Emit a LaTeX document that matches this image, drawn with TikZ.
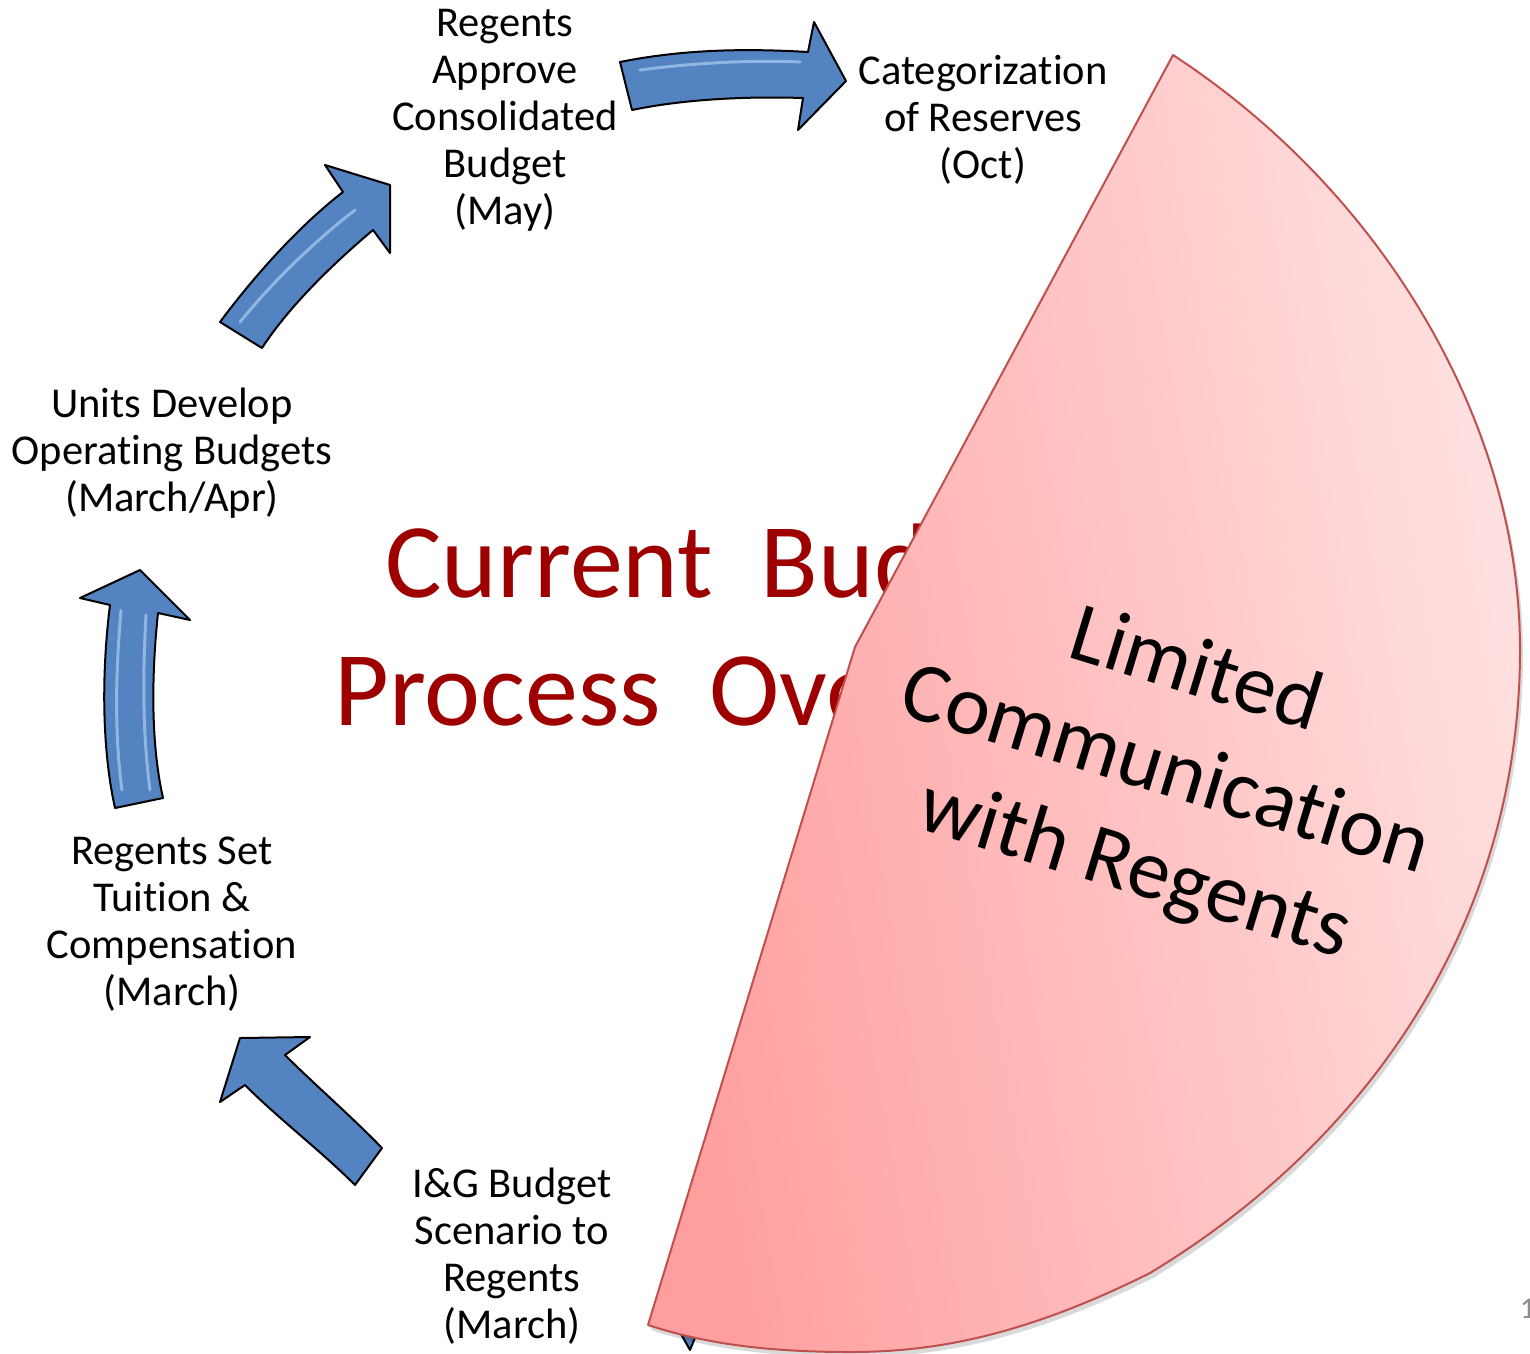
\documentclass[tikz,border=0pt]{standalone}
\usepackage{fontspec}
\setmainfont{Carlito}[Ligatures={NoCommon}]
\usetikzlibrary{calc}
\definecolor{titlered}{RGB}{158,0,0}
\definecolor{arrowblue}{RGB}{84,131,193}
\definecolor{arrowhi}{RGB}{170,205,240}
\definecolor{piedark}{RGB}{255,158,158}
\definecolor{pielight}{RGB}{255,226,226}
\definecolor{pieedge}{RGB}{192,80,77}
\definecolor{pagegray}{RGB}{140,140,140}
\newcommand\pieoutline{(648,1325) -- (855,647) -- (1173,55)
  .. controls (1380,190) and (1520,420) .. (1520,650)
  .. controls (1520,920) and (1370,1140) .. (1150,1273)
  .. controls (1020,1338) and (930,1352) .. (850,1352)
  .. controls (760,1352) and (700,1342) .. (648,1325) -- cycle}
\tikzset{
  lbl/.style={align=center,inner sep=0pt,font=\fontsize{42.5}{47}\selectfont},
  titletxt/.style={anchor=base,inner sep=0pt,text=titlered,font=\fontsize{106}{128}\selectfont},
  blockarrow/.style={fill=arrowblue,draw=black,line width=2pt,line join=round},
  gloss/.style={draw=arrowhi,line width=3pt,line cap=round,opacity=0.7},
  pietxt/.style={align=center,inner sep=0pt,font=\fontsize{85}{104}\selectfont,rotate=-17}
}
\begin{document}
\begin{tikzpicture}[x=1pt,y=-1pt]
\useasboundingbox[fill=white] (0,0) rectangle (1530,1353);

% title (partly hidden behind the pie)
\node[titletxt] (title1) at (726,597) {Current\ \ Budget};
\node[titletxt] (title2) at (726,725) {Process\ \ Overview};

% step labels
\node[lbl] (approve)  at (505,120) {Regents\\Approve\\Consolidated\\Budget\\(May)};
\node[lbl] (reserves) at (983,120) {Categorization\\of Reserves\\(Oct)};
\node[lbl] (units)    at (172,453) {Units Develop\\Operating Budgets\\(March/Apr)};
\node[lbl] (tuition)  at (172,924) {Regents Set\\Tuition \&\\Compensation\\(March)};
\node[lbl] (scenario) at (512,1256) {I\&G Budget\\Scenario to\\Regents\\(March)};

% block arrows
\path[blockarrow] (620,62) .. controls (680,50) and (740,48) .. (808,52) -- (814,22) -- (846,81) -- (798,130) -- (803,98) .. controls (740,96) and (680,100) .. (632,110) -- cycle;
\draw[gloss] (640,70) .. controls (700,62) and (760,60) .. (800,62);

\path[blockarrow] (220,322) .. controls (255,275) and (300,225) .. (343,192) -- (325,165) -- (390,185) -- (390,253) -- (373,230) .. controls (335,262) and (290,305) .. (262,348) -- cycle;
\draw[gloss] (240,322) .. controls (270,285) and (310,245) .. (355,210);

\path[blockarrow] (115,808) .. controls (100,740) and (103,660) .. (110,605) -- (80,598) -- (140,570) -- (190,620) -- (158,613) .. controls (152,670) and (150,740) .. (163,798) -- cycle;
\draw[gloss] (122,790) .. controls (114,730) and (116,670) .. (121,610);
\draw[gloss] (150,790) .. controls (142,730) and (143,670) .. (146,615);

\path[blockarrow] (382,1148) .. controls (350,1115) and (315,1085) .. (285,1055) -- (310,1037) -- (240,1038) -- (220,1102) -- (245,1085) .. controls (280,1120) and (320,1150) .. (355,1185) -- cycle;

\path[blockarrow] (672,1318) -- (690,1350) -- (703,1318) -- cycle;

% shadow of the pie
\fill[black,opacity=0.15,shift={(3,5)}] \pieoutline;

% pie shape
\shade[left color=piedark,right color=pielight,shading angle=100] \pieoutline;
\draw[pieedge,line width=2pt,line join=round] \pieoutline;

\node[pietxt] (limited) at (1165,772) {Limited\\Communication\\with Regents};

% page number (cut by the edge)
\node[anchor=west,inner sep=0pt,text=pagegray,font=\fontsize{30}{36}\selectfont] (page) at (1520,1309) {1};
\end{tikzpicture}
\end{document}
